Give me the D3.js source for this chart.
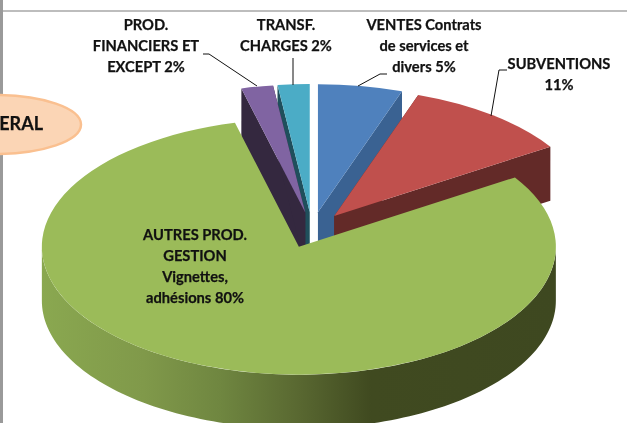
<!DOCTYPE html>
<html><head><meta charset="utf-8">
<script src="https://cdn.jsdelivr.net/npm/d3@7"></script>
<style>html,body{margin:0;padding:0;background:#fff;overflow:hidden}svg{display:block;filter:blur(0.35px)}text{font-family:Lato,"Open Sans",sans-serif;font-weight:700;fill:#111;stroke:#111;stroke-width:0.25px;text-anchor:middle}</style>
</head><body><svg id="c" width="627" height="423"></svg>
<script>
const categories = ["VENTES","SUBVENTIONS","AUTRES PROD.","PROD. FINANCIERS","TRANSF. CHARGES"];
const values = [5.3,10.6,80.1,2.0,2.0];
const topColors = ["#4f81bd","#c0504d","#9bbb59","#8064a2","#4bacc6"];
const wallColors = ["#3a6292","#632a28","#5a6b30","#34283f","#1f4f5c"];
const labelLines = [
  ["VENTES Contrats","de services et","divers 5%"],
  ["SUBVENTIONS","11%"],
  ["AUTRES PROD.","GESTION","Vignettes,","adhésions 80%"],
  ["PROD.","FINANCIERS ET","EXCEPT 2%"],
  ["TRANSF.","CHARGES 2%"]
];
const svg = d3.select("#c");
const cx=312, cy=230, rx=257, ry=128, depth=54, explode=0.14;
const pie = d3.pie().sort(null).value(d=>d)(values);
const defs = svg.append("defs");
const g = defs.append("linearGradient").attr("id","gw").attr("gradientUnits","userSpaceOnUse")
  .attr("x1",41).attr("x2",556).attr("y1",0).attr("y2",0);
[[0,"#8aa850"],[0.2,"#80994a"],[0.35,"#6f8640"],[0.5,"#596831"],[0.64,"#404a20"],[1,"#3e4820"]]
  .forEach(s=>g.append("stop").attr("offset",s[0]).attr("stop-color",s[1]));

// frame
svg.append("rect").attr("x",0).attr("y",10).attr("width",627).attr("height",2).attr("fill","#bdbdbd");
svg.append("rect").attr("x",0).attr("y",0).attr("width",3).attr("height",423).attr("fill","#9a9a9a");

const arc = d3.arc().innerRadius(0).outerRadius(rx);
const line = d3.line();
function pt(c,a,r=1){return [c[0]+rx*r*Math.sin(a), c[1]-ry*r*Math.cos(a)];}
function down(p){return [p[0],p[1]+depth];}
const order=[4,3,0,1,2];
order.forEach(i=>{
  const s=pie[i], mid=(s.startAngle+s.endAngle)/2;
  const c=pt([cx,cy],mid,explode);
  const gr=svg.append("g");
  if(i!==2){
    [s.startAngle,s.endAngle].forEach(a=>{
      const r=pt(c,a);
      gr.append("path").attr("d",line([c,r,down(r),down(c)])+"Z").attr("fill",wallColors[i]);
    });
  }
  const a0=Math.max(s.startAngle,Math.PI/2), a1=Math.min(s.endAngle,Math.PI*1.5);
  if(a1>a0){
    const pts=d3.range(0,121).map(k=>pt(c,a0+(a1-a0)*k/120));
    gr.append("path").attr("d",line(pts.concat(pts.slice().reverse().map(down)))+"Z")
      .attr("fill",i===2?"url(#gw)":wallColors[i]);
  }
  gr.append("path").attr("transform",`translate(${c[0]},${c[1]}) scale(1,${ry/rx})`)
    .attr("d",arc(s)).attr("fill",topColors[i]);
});

const leaders=[
  [[387,74],[380,74],[358,86]],
  [[507,70],[499,70],[491,116]],
  [[203,54],[209,54],[257,86]],
  [[293,58],[293,85]]
];
leaders.forEach(l=>svg.append("path").attr("d",line(l)).attr("fill","none").attr("stroke","#111").attr("stroke-width",1));

const labelPos=[[424,30],[559,69],[195,240],[146,30],[286,30]];
labelLines.forEach((ls,i)=>{
  const t=svg.append("text").attr("font-size",14.7);
  ls.forEach((l,k)=>t.append("tspan").attr("x",labelPos[i][0]).attr("y",labelPos[i][1]+k*21).text(l));
});

svg.append("ellipse").attr("cx",-5).attr("cy",124.5).attr("rx",86).attr("ry",29.5)
  .attr("fill","#fbd5b5").attr("stroke","#fac090").attr("stroke-width",2.5);
svg.append("text").attr("x",43).attr("y",130).attr("font-size",18).style("text-anchor","end").text("ERAL");
</script></body></html>
